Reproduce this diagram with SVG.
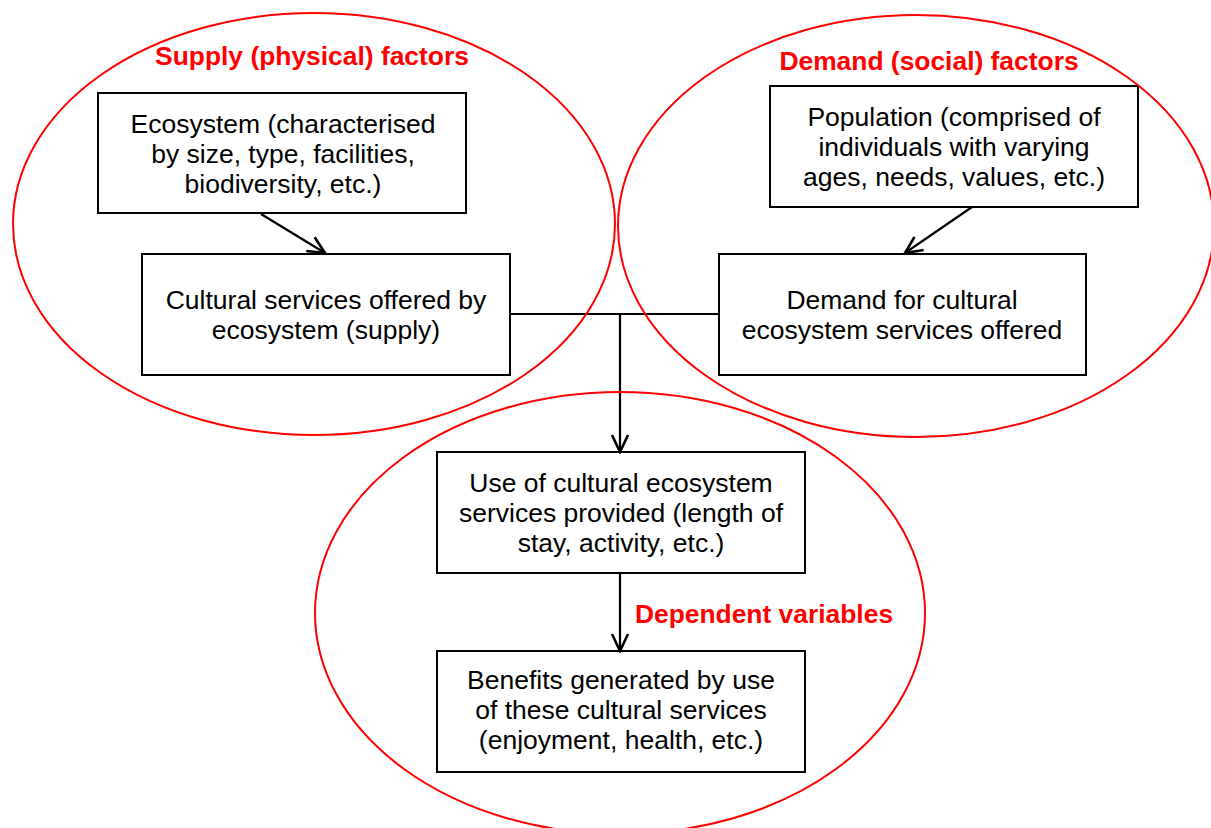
<svg xmlns="http://www.w3.org/2000/svg" width="1211" height="828" viewBox="0 0 1211 828">
<style>
.bg{fill:#fff}
.region{fill:none;stroke:#f00;stroke-width:2}
.box{fill:#fff;stroke:#000;stroke-width:2}
.t{font-family:"Liberation Sans",Arial,sans-serif;font-size:26.5px;fill:#000;text-anchor:middle}
.h{font-family:"Liberation Sans",Arial,sans-serif;font-size:26.4px;font-weight:bold;fill:#f00;text-anchor:middle}
.c{fill:none;stroke:#000;stroke-width:2.2}
</style>
<defs>
<marker id="arr" viewBox="0 0 22 20" refX="20" refY="10" markerWidth="22" markerHeight="20" markerUnits="userSpaceOnUse" orient="auto">
<path d="M3,2 L20,10 L3,18" fill="none" stroke="#000" stroke-width="2.6"/>
</marker>
</defs>
<rect class="bg" x="0" y="0" width="1211" height="828"/>
<g id="boxes">
<g id="ecosystem">
<rect class="box" x="98" y="93" width="368" height="120"/>
<text class="t" x="283" y="133">Ecosystem (characterised</text>
<text class="t" x="283" y="163">by size, type, facilities,</text>
<text class="t" x="283" y="193">biodiversity, etc.)</text>
</g>
<g id="supply">
<rect class="box" x="142" y="254" width="368" height="121"/>
<text class="t" x="326" y="309">Cultural services offered by</text>
<text class="t" x="326" y="339">ecosystem (supply)</text>
</g>
<g id="population">
<rect class="box" x="770" y="86" width="368" height="121"/>
<text class="t" x="954" y="126">Population (comprised of</text>
<text class="t" x="954" y="156">individuals with varying</text>
<text class="t" x="954" y="186">ages, needs, values, etc.)</text>
</g>
<g id="demand">
<rect class="box" x="719" y="254" width="367" height="121"/>
<text class="t" x="902" y="309">Demand for cultural</text>
<text class="t" x="902" y="339">ecosystem services offered</text>
</g>
<g id="use">
<rect class="box" x="437" y="452" width="368" height="121"/>
<text class="t" x="621" y="492">Use of cultural ecosystem</text>
<text class="t" x="621" y="522">services provided (length of</text>
<text class="t" x="621" y="552">stay, activity, etc.)</text>
</g>
<g id="benefits">
<rect class="box" x="437" y="651" width="368" height="121"/>
<text class="t" x="621" y="689">Benefits generated by use</text>
<text class="t" x="621" y="719">of these cultural services</text>
<text class="t" x="621" y="749">(enjoyment, health, etc.)</text>
</g>
</g>
<g id="connectors">
<line class="c" x1="261" y1="214" x2="325" y2="253" marker-end="url(#arr)"/>
<line class="c" x1="972" y1="207" x2="905" y2="253" marker-end="url(#arr)"/>
<polyline class="c" points="510,314 719,314"/>
<line class="c" x1="620" y1="314" x2="620" y2="452" marker-end="url(#arr)"/>
<line class="c" x1="620" y1="573" x2="620" y2="651" marker-end="url(#arr)"/>
</g>
<g id="regions">
<g id="supply-factors">
<ellipse class="region" cx="314" cy="224" rx="301" ry="211"/>
<text class="h" x="312" y="65">Supply (physical) factors</text>
</g>
<g id="demand-factors">
<ellipse class="region" cx="916" cy="226" rx="298" ry="211"/>
<text class="h" x="929" y="70">Demand (social) factors</text>
</g>
<g id="dependent-variables">
<ellipse class="region" cx="620" cy="613" rx="305" ry="221"/>
<text class="h" x="764" y="623">Dependent variables</text>
</g>
</g>
</svg>
